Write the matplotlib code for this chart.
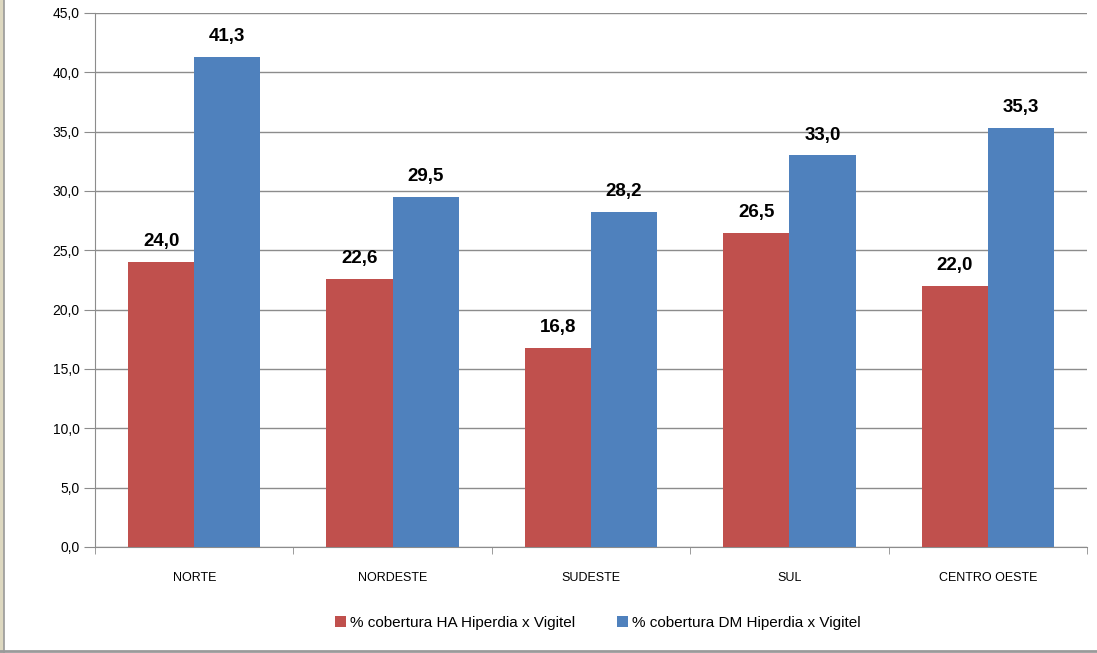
import matplotlib
matplotlib.use('Agg')
import matplotlib.pyplot as plt
import numpy as np
from matplotlib.patches import Rectangle
from matplotlib.lines import Line2D

regioes = ['NORTE', 'NORDESTE', 'SUDESTE', 'SUL', 'CENTRO OESTE']
cobertura_ha = [24.0, 22.6, 16.8, 26.5, 22.0]
cobertura_dm = [41.3, 29.5, 28.2, 33.0, 35.3]
series_nomes = ['% cobertura HA Hiperdia x Vigitel', '% cobertura DM Hiperdia x Vigitel']
y_ticks = [0, 5, 10, 15, 20, 25, 30, 35, 40, 45]

plt.rcParams['font.family'] = ['Liberation Sans', 'DejaVu Sans']

W, H = 1097, 653
fig = plt.figure(figsize=(W / 100, H / 100), dpi=100)
ax = fig.add_axes([95 / W, (H - 547) / H, 992 / W, (547 - 13) / H])

x = np.arange(len(regioes))
largura = 1 / 3
cores = ['#C0504D', '#4F81BD']

def fmt(v):
    return f'{v:.1f}'.replace('.', ',')

for i, (vals, cor) in enumerate([(cobertura_ha, cores[0]), (cobertura_dm, cores[1])]):
    pos = x - largura / 2 + i * largura
    ax.bar(pos, vals, width=largura, color=cor, zorder=3, label=series_nomes[i])
    for p, v in zip(pos, vals):
        ax.text(p, v + 1.0, fmt(v), ha='center', va='bottom', fontsize=13.5,
                fontweight='bold', color='black')

ax.set_xlim(-0.5, len(regioes) - 0.5)
ax.set_ylim(0, 45)
ax.set_yticks(y_ticks)
ax.set_yticklabels([fmt(v) for v in y_ticks], fontsize=10)
ax.yaxis.grid(True, color='#8C8C8C', linewidth=1.0, zorder=0)
ax.set_xticks(x)
ax.set_xticklabels(regioes, fontsize=9)
ax.tick_params(axis='x', length=0, pad=18)
ax.set_xticks(np.arange(-0.5, len(regioes)), minor=True)
ax.tick_params(axis='x', which='minor', length=5, color='#8C8C8C', direction='out')
ax.tick_params(axis='y', length=8, color='#8C8C8C', direction='out', pad=3)
for s in ['top', 'right']:
    ax.spines[s].set_visible(False)
for s in ['left', 'bottom']:
    ax.spines[s].set_color('#8C8C8C')

fig.legend(loc='center', bbox_to_anchor=(598 / W, 1 - 623 / H), ncol=2, frameon=False,
           handlelength=0.7, handleheight=0.7, handletextpad=0.3, columnspacing=2.7,
           fontsize=11)

# moldura da imagem
fig.patches.append(Rectangle((0, 0), 3 / W, 1, transform=fig.transFigure,
                             color='#DDD8C0', zorder=0))
fig.lines.append(Line2D([3.5 / W, 3.5 / W], [0, 1], transform=fig.transFigure,
                        color='#9A9A9A', linewidth=1.2))
fig.lines.append(Line2D([0, 1], [2 / H, 2 / H], transform=fig.transFigure,
                        color='#9A9A9A', linewidth=2))

fig.savefig('out.png', dpi=100)
